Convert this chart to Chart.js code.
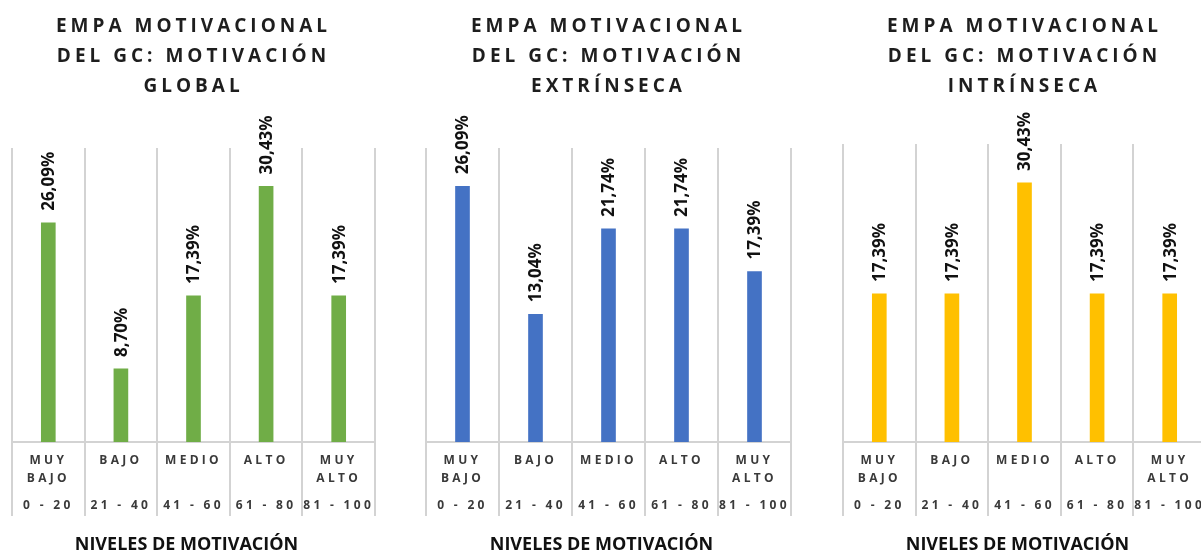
<!DOCTYPE html>
<html lang="es">
<head>
<meta charset="utf-8">
<title>EMPA Motivacional del GC</title>
<script src="https://cdn.jsdelivr.net/npm/chart.js@4.4.1/dist/chart.umd.min.js"></script>
<style>
  html, body { margin: 0; padding: 0; background: #fff; overflow: hidden; }
  body { width: 1201px; height: 556px; position: relative; }
  .box { position: absolute; top: 0; height: 556px; }
  .box canvas { display: block; }
</style>
</head>
<body>
<div class="box" id="box-global" style="left:0;width:390px"><canvas id="chart-global"></canvas></div>
<div class="box" id="box-extr" style="left:400px;width:400px"><canvas id="chart-extr"></canvas></div>
<div class="box" id="box-intr" style="left:810px;width:400px"><canvas id="chart-intr"></canvas></div>
<script>
// Data
const levels = ['MUY BAJO', 'BAJO', 'MEDIO', 'ALTO', 'MUY ALTO'];
const ranges = ['0 - 20', '21 - 40', '41 - 60', '61 - 80', '81 - 100'];
const globalValues = [26.09, 8.70, 17.39, 30.43, 17.39];
const extrinsecaValues = [26.09, 13.04, 21.74, 21.74, 17.39];
const intrinsecaValues = [17.39, 17.39, 30.43, 17.39, 17.39];
const titleGlobal = ['EMPA MOTIVACIONAL', 'DEL GC: MOTIVACIÓN', 'GLOBAL'];
const titleExtrinseca = ['EMPA MOTIVACIONAL', 'DEL GC: MOTIVACIÓN', 'EXTRÍNSECA'];
const titleIntrinseca = ['EMPA MOTIVACIONAL', 'DEL GC: MOTIVACIÓN', 'INTRÍNSECA'];
const axisTitle = 'NIVELES DE MOTIVACIÓN';

const FONT = "'Open Sans', 'DejaVu Sans', sans-serif";
const GRID = '#d3d3d3';

// Two-level category labels: level words on top, range at the bottom
const categoryLabels = levels.map((lvl, i) => {
  const words = lvl.split(' ');
  const lines = [];
  words.forEach((w, k) => { if (k > 0) lines.push(''); lines.push(w); });
  while (lines.length < 5) lines.push('');
  lines.push(ranges[i]);
  return lines;
});

const fmt = v => v.toFixed(2).replace('.', ',') + '%';

// letter spacing: wide for the title, a bit less for the ticks (drawn at z 1),
// none for the value labels and the axis title
const textPlugin = {
  id: 'excelText',
  beforeDraw(chart) {
    chart.ctx.letterSpacing = '4px';
  },
  afterDatasetsDraw(chart) {
    const ctx = chart.ctx;
    ctx.save();
    ctx.letterSpacing = '0px';
    ctx.font = 'bold 17px ' + FONT;
    ctx.fillStyle = '#111';
    ctx.textAlign = 'left';
    ctx.textBaseline = 'middle';
    const meta = chart.getDatasetMeta(0);
    const data = chart.data.datasets[0].data;
    meta.data.forEach((bar, i) => {
      ctx.save();
      ctx.translate(bar.x + 1, bar.y - 12);
      ctx.rotate(-Math.PI / 2);
      ctx.fillText(fmt(data[i]), 0, 0);
      ctx.restore();
    });
    ctx.restore();
    ctx.letterSpacing = '3.3px';
  },
  afterDraw(chart) {
    const ctx = chart.ctx;
    const area = chart.chartArea;
    ctx.save();
    ctx.letterSpacing = '0px';
    ctx.font = 'bold 18px ' + FONT;
    ctx.fillStyle = '#111';
    ctx.textAlign = 'center';
    ctx.textBaseline = 'middle';
    ctx.fillText(axisTitle, (area.left + area.right) / 2 - 7, 545);
    ctx.restore();
    ctx.letterSpacing = '0px';
  }
};

function makeChart(id, title, values, color, yMax, pad) {
  const ctx = document.getElementById(id).getContext('2d');
  return new Chart(ctx, {
    type: 'bar',
    data: {
      labels: categoryLabels,
      datasets: [{
        data: values,
        backgroundColor: color,
        borderWidth: 0,
        barThickness: 14
      }]
    },
    options: {
      responsive: true,
      maintainAspectRatio: false,
      animation: false,
      events: [],
      layout: {
        padding: { left: pad.left, right: pad.right, top: 0, bottom: 34 }
      },
      plugins: {
        legend: { display: false },
        tooltip: { enabled: false },
        title: {
          display: true,
          text: title,
          color: '#1e1e1e',
          font: { family: FONT, size: 19, weight: 'bold', lineHeight: '30px' },
          padding: { top: 12, bottom: pad.titleBottom }
        }
      },
      scales: {
        x: {
          offset: true,
          grid: {
            offset: true,
            display: true,
            drawOnChartArea: true,
            drawTicks: true,
            tickLength: 74,
            color: GRID,
            lineWidth: 2
          },
          border: { display: true, color: GRID, width: 2 },
          ticks: {
            z: 1,
            autoSkip: false,
            maxRotation: 0,
            minRotation: 0,
            padding: -60,
            color: '#3a3a3a',
            font: { family: FONT, size: 12, weight: 'bold', lineHeight: '9px' }
          },
          // room for the two-level labels that sit between the separators
          afterFit: scale => { scale.height = 80; }
        },
        y: {
          display: false,
          min: 0,
          max: yMax
        }
      }
    },
    plugins: [textPlugin]
  });
}

makeChart('chart-global', titleGlobal, globalValues, '#70ad47', 35, { left: 12, right: 15, titleBottom: 46 });
makeChart('chart-extr', titleExtrinseca, extrinsecaValues, '#4472c4', 30, { left: 26, right: 9, titleBottom: 46 });
makeChart('chart-intr', titleIntrinseca, intrinsecaValues, '#ffc000', 35, { left: 33, right: 4, titleBottom: 42 });
</script>
</body>
</html>
